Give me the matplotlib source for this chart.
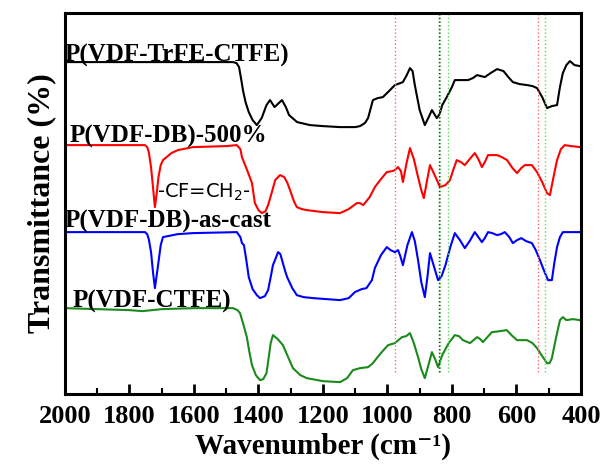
import matplotlib
matplotlib.use("Agg")
import matplotlib.pyplot as plt
from matplotlib.ticker import MultipleLocator

plt.rcParams['font.family'] = ['Liberation Serif', 'DejaVu Serif']

# FTIR spectra, offset vertically (a.u.)
w_terpolymer = [2000, 1479, 1468, 1460, 1452, 1448, 1440, 1430, 1418, 1405, 1390, 1375, 1364, 1350,
                1327, 1315, 1305, 1280, 1240, 1200, 1147, 1100, 1085, 1070, 1060, 1045, 1030, 1014,
                995, 977, 960, 952, 940, 930, 922, 915, 900, 884, 872, 862, 847, 838, 830, 816, 800,
                791, 770, 750, 735, 722, 710, 698, 680, 660, 640, 625, 611, 590, 567, 550, 536,
                520, 505, 490, 474, 465, 456, 445, 434, 420, 403]
t_terpolymer = [405, 405, 404, 400, 385, 377, 365, 355, 347, 342, 349, 362, 367, 360,
                367, 360, 352, 345, 342, 341, 340, 340, 341, 344, 349, 367, 369, 370,
                376, 382, 384, 385, 392, 399, 396, 382, 357, 342, 350, 357, 349, 353, 362, 370, 380,
                387, 387, 387, 389, 392, 391, 390, 394, 398, 396, 390, 385, 383, 382, 381, 379,
                370, 359, 361, 362, 380, 394, 402, 406, 402, 401]

w_db500 = [2000, 1752, 1745, 1740, 1733, 1727, 1721, 1715, 1710, 1703, 1696, 1670, 1650, 1603, 1500,
           1467, 1456, 1451, 1445, 1435, 1420, 1411, 1400, 1389, 1378, 1370, 1360, 1348, 1333,
           1320, 1310, 1302, 1290, 1281, 1265, 1250, 1200, 1147, 1120, 1095, 1085, 1075, 1055,
           1039, 1020, 1002, 985, 977, 967, 958, 952, 940, 930, 918, 905, 895, 887, 878, 868, 852,
           837, 820, 806, 795, 785, 772, 760, 745, 729, 718, 707, 698, 688, 675, 660, 645, 629,
           612, 598, 585, 574, 552, 536, 520, 505, 496, 485, 474, 462, 450, 430, 403]
t_db500 = [322, 322, 320, 315, 300, 280, 260, 275, 290, 302, 307, 314, 317, 320, 321,
           322, 318, 310, 305, 297, 284, 264, 257, 254, 256, 262, 273, 287, 292,
           290, 284, 277, 266, 260, 258, 257, 255, 254, 258, 264, 264, 262, 270,
           280, 288, 295, 296, 297, 300, 296, 285, 305, 319, 308, 290, 277, 269, 285, 302, 291,
           280, 282, 287, 298, 307, 305, 302, 308, 314, 308, 300, 305, 312, 312, 312, 310, 307,
           299, 294, 299, 302, 302, 295, 285, 274, 272, 290, 307, 318, 322, 321, 320]

w_dbcast = [2000, 1752, 1745, 1740, 1733, 1727, 1721, 1715, 1710, 1703, 1696, 1650, 1603, 1467,
            1456, 1451, 1445, 1438, 1430, 1418, 1405, 1395, 1380, 1370, 1362, 1355, 1339, 1332,
            1325, 1318, 1311, 1295, 1281, 1260, 1230, 1147, 1120, 1101, 1080, 1065, 1048, 1039,
            1020, 1002, 990, 977, 967, 960, 952, 938, 924, 915, 905, 895, 884, 876, 868, 855, 843,
            832, 820, 805, 791, 775, 760, 745, 729, 718, 707, 698, 688, 675, 660, 648, 636, 622,
            611, 598, 585, 570, 552, 540, 527, 515, 502, 490, 482, 474, 465, 456, 430, 403]
t_dbcast = [235, 235, 233, 228, 215, 195, 179, 193, 205, 222, 230, 233, 234, 235,
            230, 224, 222, 208, 190, 178, 172, 169, 171, 177, 190, 202, 215, 213,
            205, 197, 190, 179, 172, 170, 169, 167, 169, 175, 178, 179, 187, 199,
            212, 220, 217, 215, 217, 211, 202, 222, 235, 226, 207, 185, 170, 190, 214, 200, 187,
            191, 202, 220, 234, 227, 219, 226, 235, 230, 225, 229, 235, 234, 232, 233, 235, 230,
            224, 227, 229, 226, 224, 217, 207, 197, 187, 187, 205, 220, 230, 235, 235, 235]

w_ctfe = [2000, 1800, 1760, 1700, 1600, 1479, 1465, 1457, 1446, 1436, 1428, 1420, 1408, 1395,
          1385, 1375, 1368, 1362, 1355, 1340, 1324, 1308, 1293, 1270, 1250, 1200, 1147, 1125,
          1107, 1085, 1060, 1045, 1033, 1015, 998, 977, 955, 942, 930, 918, 905, 895, 884, 872,
          862, 852, 843, 830, 810, 791, 778, 766, 744, 733, 722, 712, 704, 690, 676, 650, 630,
          612, 598, 580, 567, 550, 536, 520, 505, 497, 490, 478, 465, 456, 445, 425, 403]
t_ctfe = [159, 157, 156, 158, 159, 159, 157, 154, 142, 130, 115, 102, 92, 87,
          88, 94, 110, 124, 132, 128, 122, 110, 99, 92, 89, 86, 85, 89,
          97, 99, 100, 104, 109, 116, 122, 124, 130, 131, 134, 124, 110, 98, 89, 103,
          115, 108, 100, 112, 124, 132, 131, 127, 124, 127, 130, 128, 125, 130, 135, 136, 137,
          131, 127, 127, 127, 124, 119, 111, 104, 104, 109, 128, 147, 150, 147, 148, 147]

red_marks = [977, 533]
green_marks = [837, 812, 512]
black_marks = [840]

fig = plt.figure(figsize=(6.07, 4.67), dpi=100)
ax = fig.add_axes([0.107, 0.156, 0.850, 0.816])

ax.plot(w_terpolymer, t_terpolymer, color='black', lw=1.5)
ax.plot(w_db500, t_db500, color='red', lw=1.5)
ax.plot(w_dbcast, t_dbcast, color='blue', lw=1.5)
ax.plot(w_ctfe, t_ctfe, color='#1a8a1a', lw=1.5)

for x in red_marks:
    ax.axvline(x, ymin=0.058, ymax=1, color='#ff6666', ls=':', lw=1.0)
for x in green_marks:
    ax.axvline(x, ymin=0.058, ymax=1, color='#55dd55', ls=':', lw=1.0)
for x in black_marks:
    ax.axvline(x, ymin=0.058, ymax=1, color='#333333', ls=':', lw=1.0)

lab = dict(fontsize=18, fontweight='bold', ha='left', va='baseline')
ax.text(2000, 406, 'P(VDF-TrFE-CTFE)', **lab)
ax.text(1985, 325, 'P(VDF-DB)-500%', **lab)
ax.text(2000, 240, 'P(VDF-DB)-as-cast', **lab)
ax.text(1977, 160, 'P(VDF-CTFE)', **lab)
ax.text(1715, 275, '-CF=CH$_2$-', fontsize=14, family='DejaVu Sans',
        ha='left', va='center')

ax.set_xlim(2000, 400)
ax.set_ylim(73, 454)
ax.xaxis.set_major_locator(MultipleLocator(200))
ax.xaxis.set_minor_locator(MultipleLocator(100))
ax.tick_params(axis='x', which='major', direction='in', length=7, width=2, labelsize=19, pad=8)
ax.tick_params(axis='x', which='minor', direction='in', length=4, width=1.5)
ax.set_yticks([])
for lbl in ax.get_xticklabels():
    lbl.set_fontweight('bold')
for s in ax.spines.values():
    s.set_linewidth(2.2)

ax.set_xlabel('Wavenumber (cm\u207b\u00b9)', fontsize=21, fontweight='bold', labelpad=3)
ax.set_ylabel('Transmittance (%)', fontsize=23, fontweight='bold', labelpad=6)

fig.savefig('out.png', dpi=100)
